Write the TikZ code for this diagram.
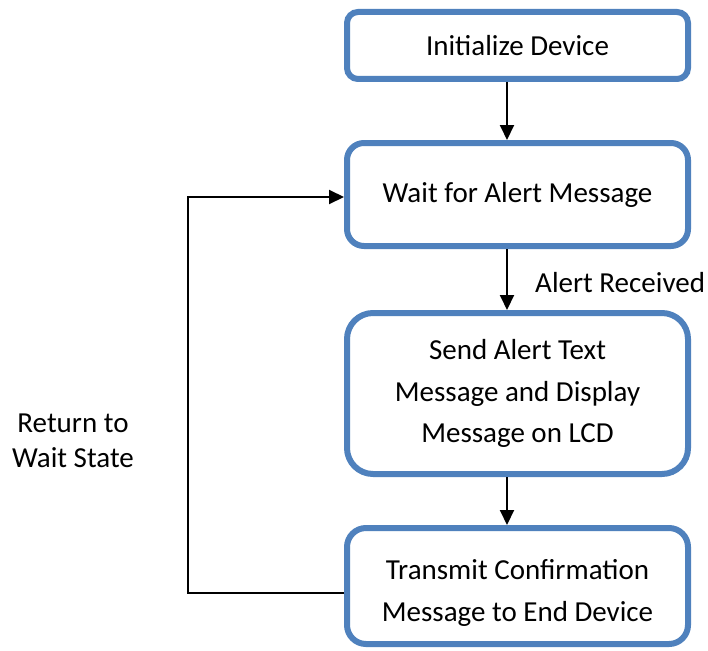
\documentclass[tikz,border=0pt]{standalone}
\usepackage{fontspec}
\setmainfont{Carlito}
\usetikzlibrary{arrows.meta}
\definecolor{boxblue}{HTML}{4F81BD}
\tikzset{
  box/.style={draw=boxblue, line width=6pt, fill=white, align=center,
    inner sep=0pt, minimum width=341pt,
    font=\fontsize{29}{41.5}\selectfont},
  arr/.style={draw=black, line width=2pt, -{Triangle[length=15pt,width=14pt]}},
  lbl/.style={inner sep=0pt, font=\fontsize{29}{35}\selectfont, align=center},
  boxtext/.style={inner sep=0pt, font=\fontsize{29}{41.5}\selectfont, align=center}
}
\begin{document}
\begin{tikzpicture}[x=1pt,y=-1pt]
\useasboundingbox (0,0) rectangle (708,650);
\node[box, minimum height=67pt, rounded corners=11pt] (b1) at (517.5,45.5) {Initialize Device};
\node[box, minimum height=103pt, rounded corners=17pt] (b2) at (517.5,194.5) {Wait for Alert Message};
\node[box, minimum height=161pt, rounded corners=26pt] (b3) at (517.5,393.5) {Send Alert Text\\Message and Display\\Message on LCD};
\node[box, minimum height=116pt, rounded corners=19pt] (b4) at (517.5,586) {};
\node[boxtext] (t4) at ([yshift=-7pt]b4.center) {Transmit Confirmation\\Message to End Device};
\draw[arr] ([xshift=-10.5pt]b1.south) -- ([xshift=-10.5pt]b2.north);
\draw[arr] ([xshift=-10.5pt]b2.south) -- ([xshift=-10.5pt]b3.north);
\draw[arr] ([xshift=-10.5pt]b3.south) -- ([xshift=-10.5pt]b4.north);
\node[lbl, anchor=west] (ar) at (535,283) {Alert Received};
\coordinate (l1) at (188,593);
\coordinate (l2) at (188,197);
\draw[arr] (b4.west |- l1) -- (l1) -- (l2) -- (b2.west |- l2);
\node[lbl] (ret) at (73,440.5) {Return to\\Wait State};
\end{tikzpicture}
\end{document}
